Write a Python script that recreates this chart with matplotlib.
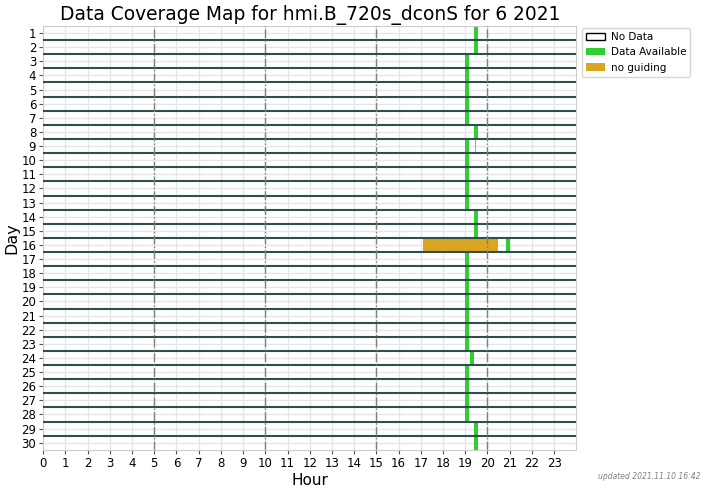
import matplotlib

matplotlib.use("Agg")

import matplotlib.pyplot as plt
from matplotlib.patches import Patch

# coverage per day: start hour and length (hours) of available data
days = list(range(1, 31))
data_start = [19.41, 19.41, 19.0, 19.0, 19.0, 19.0, 19.0, 19.41, 19.0, 19.0,
              19.0, 19.0, 19.0, 19.41, 19.41, 20.82, 19.0, 19.0, 19.0, 19.0,
              19.0, 19.0, 19.0, 19.23, 19.0, 19.0, 19.0, 19.0, 19.41, 19.41]
data_len = [0.18] * 30

# periods flagged as "no guiding"
noguide_days = [9, 16]
noguide_start = [19.45, 17.08]
noguide_len = [0.04, 3.4]

hour_ticks = list(range(24))

fig = plt.figure(figsize=(7.08, 4.90), dpi=100)
ax = fig.add_axes([0.061, 0.082, 0.753, 0.865])

ax.set_xlim(0, 24)
ax.set_ylim(30.5, 0.5)
ax.set_xticks(hour_ticks)
ax.set_yticks(days)
ax.grid(True, color="#e6e6e6", linewidth=1, zorder=0)
ax.set_axisbelow(True)
for spine in ax.spines.values():
    spine.set_color("#cccccc")
ax.tick_params(length=3, color="#555555", labelsize=8.5, pad=2)

for d, s, w in zip(days, data_start, data_len):
    ax.broken_barh([(s, w)], (d - 0.5, 1), facecolors="limegreen", zorder=2)
for d, s, w in zip(noguide_days, noguide_start, noguide_len):
    ax.broken_barh([(s, w)], (d - 0.5, 1), facecolors="goldenrod", zorder=2)

for d in days[:-1]:
    ax.axhline(d + 0.5, color="darkslategray", linewidth=1.5, zorder=3)
for h in (5, 10, 15, 20):
    ax.axvline(h, color="gray", linestyle="-.", linewidth=1, zorder=3)

ax.set_title("Data Coverage Map for hmi.B_720s_dconS for 6 2021", fontsize=13.4, pad=4)
ax.set_xlabel("Hour", fontsize=11, labelpad=2)
ax.set_ylabel("Day", fontsize=11.5, labelpad=1)

handles = [
    Patch(facecolor="white", edgecolor="black", label="No Data"),
    Patch(facecolor="limegreen", label="Data Available"),
    Patch(facecolor="goldenrod", label="no guiding"),
]
ax.legend(handles=handles, loc="upper left", bbox_to_anchor=(1.01, 0.995),
          fontsize=7.5, borderaxespad=0, handlelength=1.8, handletextpad=0.6)

fig.text(0.99, 0.018, "updated 2021.11.10 16:42", ha="right", va="bottom",
         fontsize=5.5, style="italic", color="gray")

fig.savefig("out.png", dpi=100)
